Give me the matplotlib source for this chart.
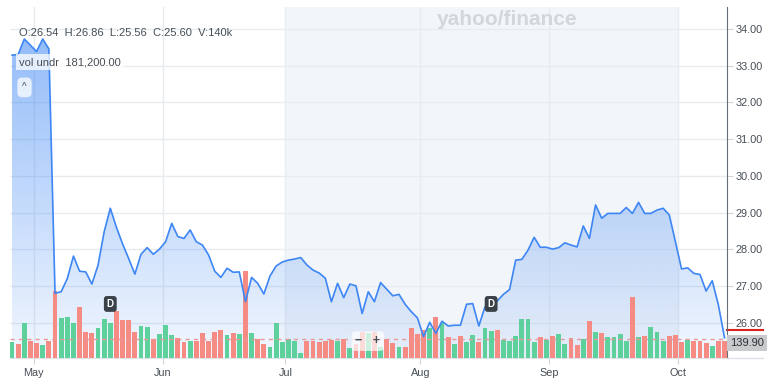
import numpy as np
import matplotlib
matplotlib.use('Agg')
import matplotlib.pyplot as plt
from matplotlib.colors import to_rgb
from matplotlib.transforms import blended_transform_factory

plt.rcParams['font.family'] = ['Liberation Sans', 'DejaVu Sans']

# daily closes, one per trading day
close = [33.28, 33.30, 33.72, 33.55, 33.38, 33.72, 33.45, 26.81, 26.85, 27.21,
         27.82, 27.41, 27.39, 27.06, 27.57, 28.48, 29.12, 28.60, 28.15, 27.75,
         27.33, 27.87, 28.05, 27.87, 28.01, 28.21, 28.71, 28.35, 28.30, 28.53,
         28.21, 28.12, 27.85, 27.41, 27.24, 27.49, 27.38, 27.39, 26.58, 27.24,
         27.08, 26.79, 27.28, 27.55, 27.66, 27.71, 27.74, 27.78, 27.58, 27.44,
         27.36, 27.22, 26.58, 27.08, 26.69, 27.06, 27.01, 26.26, 26.85, 26.58,
         27.10, 26.92, 26.74, 26.78, 26.51, 26.31, 26.14, 25.63, 26.02, 25.72,
         26.05, 25.92, 25.94, 25.94, 26.51, 26.53, 25.92, 26.44, 26.50, 26.60,
         26.78, 26.91, 27.71, 27.73, 27.98, 28.33, 28.06, 28.06, 28.01, 28.05,
         28.18, 28.12, 28.07, 28.64, 28.30, 29.21, 28.85, 28.98, 28.98, 28.98,
         29.14, 28.98, 29.28, 28.98, 28.98, 29.07, 29.12, 28.94, 28.21, 27.47,
         27.50, 27.35, 27.32, 26.87, 27.15, 26.49, 25.60]

# volume in thousands
volume_k = [116, 101, 256, 125, 109, 96, 125, 488, 288, 295,
            256, 372, 189, 183, 215, 283, 252, 341, 279, 276,
            189, 232, 227, 136, 172, 241, 165, 147, 116, 121,
            121, 181, 123, 189, 201, 165, 181, 172, 629, 183,
            140, 101, 78, 256, 114, 136, 125, 34, 121, 125,
            114, 125, 133, 121, 140, 73, 101, 189, 181, 189,
            78, 138, 107, 78, 78, 221, 174, 203, 215, 295,
            257, 149, 101, 160, 114, 165, 114, 215, 196, 203,
            131, 125, 160, 281, 285, 118, 150, 133, 160, 176,
            104, 147, 96, 136, 270, 189, 179, 150, 152, 176,
            121, 440, 152, 160, 227, 189, 121, 160, 170, 116,
            133, 125, 125, 107, 87, 125, 125]

# g = up day, r = down day (groups of ten)
updown = ("grgrrgrrgg grrrgggrrr rggrgggrrg rrrrrgrgrg rrggggggrr "
          "rrrgrgrrgr grrgrrrrgr grgrggrggr ggggggrgrg grrgrgrggg "
          "grgrgggrrr grrrgrr").replace(' ', '')

month_labels = ['May', 'Jun', 'Jul', 'Aug', 'Sep', 'Oct']
month_start = [4, 25, 45, 67, 88, 109]
div_idx = [16, 78]
price_ticks = [26, 27, 28, 29, 30, 31, 32, 33, 34]
last_vol = 139.9
last_mark = 25.81
ohlc_text = "O:26.54  H:26.86  L:25.56  C:25.60  V:140k"
vol_text = "vol undr  181,200.00"

n = len(close)
x = np.arange(n)
W, H = 779, 379
fig = plt.figure(figsize=(W / 100, H / 100), dpi=100)
rect = [10 / W, 21 / H, 717 / W, 351 / H]
ax = fig.add_axes(rect)
ax_vol = fig.add_axes(rect, sharex=ax)
ax_line = fig.add_axes(rect, sharex=ax, sharey=ax)

x0, x1 = -0.33, 116.4
y0, y1 = 25.05, 34.59
ax.set_xlim(x0, x1)
ax.set_ylim(y0, y1)
ax_vol.set_ylim(0, 2545)

txt = '#464e56'
grid_c = '#e8ebef'

# month shading jul-sep
ax.axvspan(month_start[2] - 0.5, month_start[5] - 0.5, color='#f2f5f9', zorder=0, lw=0)

# gradient area under the price line
fill = ax.fill_between(x, close, y0, facecolor='none', edgecolor='none')
path = fill.get_paths()[0]
grad = np.zeros((256, 1, 4))
grad[:, :, :3] = to_rgb('#3d86f4')
grad[:, 0, 3] = np.linspace(0.6, 0.07, 256)
im = ax.imshow(grad, aspect='auto', extent=[x0, x1, y0, y1], origin='upper', zorder=2)
im.set_clip_path(path, transform=ax.transData)
ax.set_xlim(x0, x1)
ax.set_ylim(y0, y1)

# grid + axes
ax.set_axisbelow(True)
ax.set_yticks(price_ticks)
ax.set_yticklabels(['%.2f' % p for p in price_ticks])
ax.set_xticks([s - 0.5 for s in month_start])
ax.set_xticklabels(month_labels)
ax.grid(True, color=grid_c, lw=1)
ax.yaxis.tick_right()
ax.tick_params(axis='y', length=4, color='#cfd4da', labelsize=7.8, labelcolor=txt, pad=2)
ax.tick_params(axis='x', length=4, color='#cfd4da', labelsize=7.8, labelcolor=txt, pad=3)
for s in ['top', 'left']:
    ax.spines[s].set_visible(False)
ax.spines['right'].set_color('#676e75')
ax.spines['bottom'].set_color('#dfe3e8')
ax.plot([1, 1.05], [0, 0], transform=ax.transAxes, color='#dfe3e8', lw=1, clip_on=False)

# volume bars
bar_colors = ['#5dd09b' if c == 'g' else '#f58b82' for c in updown]
ax_vol.bar(x, volume_k, width=0.8, color=bar_colors, zorder=2)
ax_vol.axhline(last_vol, color='#e89a9a', ls=(0, (3, 3)), lw=1, zorder=3)
ax_vol.axis('off')
ax_vol.patch.set_visible(False)
tv = blended_transform_factory(ax_vol.transAxes, ax_vol.transData)
ax_vol.text(1.004, last_vol - 30, '139.90', transform=tv, ha='left', va='center',
            fontsize=8, color='#2b2f33',
            bbox=dict(boxstyle='square,pad=0.3', fc='#c8cacd', ec='none'))

# price line
ax_line.plot(x, close, color='#3d86f4', lw=1.2)
ax_line.axis('off')
ax_line.patch.set_visible(False)

tp = blended_transform_factory(ax.transAxes, ax.transData)
ax.plot([1.0, 1.05], [last_mark, last_mark], transform=tp, color='#d9231d', lw=1.5, clip_on=False)

# dividend markers
td = blended_transform_factory(ax_line.transData, ax_line.transAxes)
for i in div_idx:
    ax_line.text(i, 0.154, 'D', transform=td, ha='center', va='center', fontsize=7,
                 color='white', fontweight='bold',
                 bbox=dict(boxstyle='round,pad=0.3', fc='#3b4149', ec='none'))

# overlay texts
ax_line.text(0.0126, 0.926, ohlc_text, transform=ax_line.transAxes, fontsize=8,
             color=txt, va='center', ha='left')
ax_line.text(0.0126, 0.843, vol_text, transform=ax_line.transAxes, fontsize=8,
             color=txt, va='center', ha='left',
             bbox=dict(boxstyle='square,pad=0.25', fc=(1, 1, 1, 0.75), ec='none'))
ax_line.text(0.0202, 0.771, '^', transform=ax_line.transAxes, fontsize=7,
             color=txt, va='center', ha='center',
             bbox=dict(boxstyle='round,pad=0.5', fc=(1, 1, 1, 0.75), ec='none'))
ax_line.text(0.499, 0.048, '\u2212   +', transform=ax_line.transAxes, fontsize=9,
             color=txt, va='center', ha='center', fontweight='bold',
             bbox=dict(boxstyle='round,pad=0.3', fc=(1, 1, 1, 0.7), ec='none'))
ax_line.text(0.693, 0.963, 'yahoo/finance', transform=ax_line.transAxes, fontsize=15,
             color='#d3d7dc', va='center', ha='center', fontweight='bold')

fig.savefig('out.png', dpi=100)
